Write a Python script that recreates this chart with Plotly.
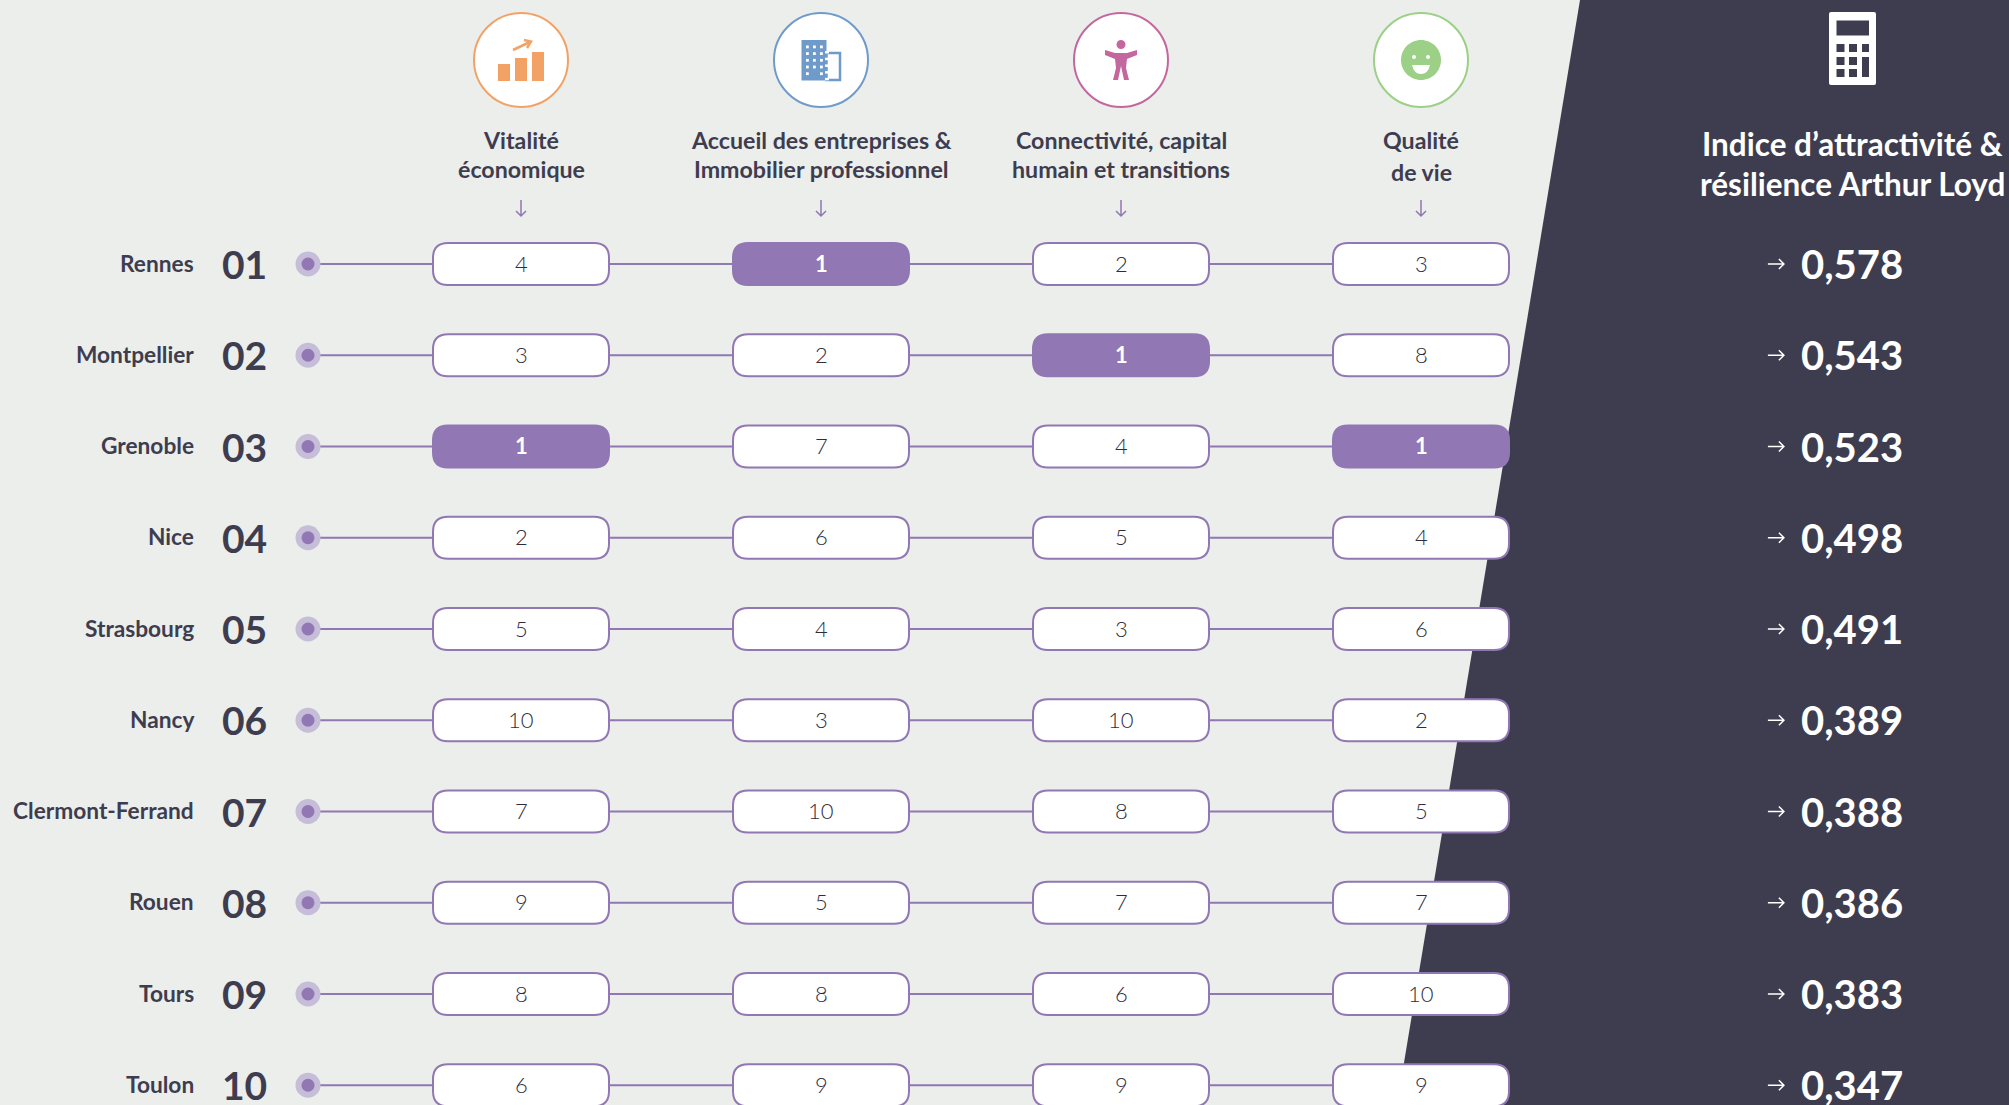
import plotly.graph_objects as go

cities = ["Rennes", "Montpellier", "Grenoble", "Nice", "Strasbourg", "Nancy",
          "Clermont-Ferrand", "Rouen", "Tours", "Toulon"]
ranks = ["01", "02", "03", "04", "05", "06", "07", "08", "09", "10"]
vitalite = [4, 3, 1, 2, 5, 10, 7, 9, 8, 6]
accueil = [1, 2, 7, 6, 4, 3, 10, 5, 8, 9]
connectivite = [2, 1, 4, 5, 3, 10, 8, 7, 6, 9]
qualite = [3, 8, 1, 4, 6, 2, 5, 7, 10, 9]
indice = ["0,578", "0,543", "0,523", "0,498", "0,491", "0,389", "0,388", "0,386", "0,383", "0,347"]
headers = [["Vitalité", "économique"], ["Accueil des entreprises &", "Immobilier professionnel"],
           ["Connectivité, capital", "humain et transitions"], ["Qualité", "de vie"]]
score_title = ["Indice d’attractivité &", "résilience Arthur Loyd"]

W, H = 2009, 1105
BG, DARK, PURPLE, HALO = "#ECEEEB", "#3E3D50", "#9177B3", "#C6BDD8"
ORANGE, BLUE, PINK, GREEN = "#F3A266", "#6F9BCB", "#C4679F", "#9BD086"
FONT = "Lato"
COL_PX = 300.0
ROW_PX = 91.25
X0_PX, Y0_PX = 521.0, 264.0
columns = [vitalite, accueil, connectivite, qualite]
DOT_X = -0.71
SCORE_X = 4.26
ARROW_X = 4.183
header_line_y = [[140, 169], [140, 169], [140, 169], [140, 172]]
title_line_y = [144, 184]

fig = go.Figure()
ys = list(range(1, 11))

# connecting lines and dots
for i, y in enumerate(ys):
    fig.add_trace(go.Scatter(x=[DOT_X, 0, 1, 2, 3], y=[y] * 5, mode="lines",
                             line=dict(color=PURPLE, width=2), hoverinfo="skip", showlegend=False))
fig.add_trace(go.Scatter(x=[DOT_X] * 10, y=ys, mode="markers",
                         marker=dict(size=25, color=HALO, line=dict(width=0)), showlegend=False, hoverinfo="skip"))
fig.add_trace(go.Scatter(x=[DOT_X] * 10, y=ys, mode="markers",
                         marker=dict(size=13, color=PURPLE, line=dict(width=0)), showlegend=False, hoverinfo="skip"))

shapes = []
annotations = []


def yf(px):
    return 1 - px / H


def psh(path, cx, cy_px, fill=None, line=None, lw=0, xref="x"):
    """Path in pixels (y down) relative to an anchor."""
    shapes.append(dict(type="path", xref=xref, yref="paper", xsizemode="pixel", ysizemode="pixel",
                       xanchor=cx, yanchor=yf(cy_px), path=path,
                       fillcolor=fill if fill else "rgba(0,0,0,0)",
                       line=dict(color=line if line else "rgba(0,0,0,0)", width=lw), layer="above"))


def rr(x0, y0, x1, y1, r):
    # y is flipped for the plotly pixel convention (positive = up)
    a, b = -y0, -y1
    return (f"M{x0 + r},{a} L{x1 - r},{a} Q{x1},{a} {x1},{a - r} L{x1},{b + r} Q{x1},{b} {x1 - r},{b} "
            f"L{x0 + r},{b} Q{x0},{b} {x0},{b + r} L{x0},{a - r} Q{x0},{a} {x0 + r},{a} Z")


def box(x0, y0, x1, y1):
    return f"M{x0},{-y0} L{x1},{-y0} L{x1},{-y1} L{x0},{-y1} Z"


def circ(cx, cy, r):
    k = 0.5523 * r
    y = -cy
    return (f"M{cx - r},{y} C{cx - r},{y + k} {cx - k},{y + r} {cx},{y + r} "
            f"C{cx + k},{y + r} {cx + r},{y + k} {cx + r},{y} "
            f"C{cx + r},{y - k} {cx + k},{y - r} {cx},{y - r} "
            f"C{cx - k},{y - r} {cx - r},{y - k} {cx - r},{y} Z")


def poly(pts):
    return "M" + " L".join(f"{x},{-y}" for x, y in pts) + " Z"


def line_path(pts):
    return "M" + " L".join(f"{x},{-y}" for x, y in pts)


# dark slanted panel, drawn beneath the traces
shapes.append(dict(type="path", xref="paper", yref="paper", layer="below", fillcolor=DARK,
                   line=dict(width=0), path=f"M{1580 / W},1 L1,1 L1,0 L{1397 / W},0 Z"))

# pills and values
for c, col in enumerate(columns):
    for y, v in zip(ys, col):
        hi = v == 1
        shapes.append(dict(type="path", xref="x", yref="y", xsizemode="pixel", ysizemode="pixel",
                           xanchor=c, yanchor=y, path=rr(-88, -21, 88, 21, 15),
                           fillcolor=PURPLE if hi else "white", line=dict(color=PURPLE, width=2), layer="above"))
        annotations.append(dict(x=c, y=y, xref="x", yref="y", text=f"<b>{v}</b>" if hi else str(v), showarrow=False,
                                yshift=1,
                                font=dict(family=FONT, size=22, weight=700 if hi else 300,
                                          color="white" if hi else "#2E2D40")))

# rows: city, rank, score
for y, name, r, s in zip(ys, cities, ranks, indice):
    annotations.append(dict(x=196 / W, y=y, xref="paper", yref="y", xanchor="right", yanchor="middle",
                            text=f"<b>{name}</b>", yshift=1,
                            showarrow=False, font=dict(family=FONT, size=22.7, color=DARK)))
    annotations.append(dict(x=220 / W, y=y, xref="paper", yref="y", xanchor="left", yanchor="middle",
                            text=f"<b>{r}</b>",
                            showarrow=False, font=dict(family=FONT, size=39, color=DARK)))
    annotations.append(dict(x=SCORE_X, y=y, xref="x", yref="y", xanchor="left", yanchor="middle",
                            text=f"<b>{s}</b>",
                            showarrow=False, font=dict(family=FONT, size=40, color="white")))
    shapes.append(dict(type="path", xref="x", yref="y", xsizemode="pixel", ysizemode="pixel",
                       xanchor=ARROW_X, yanchor=y, path="M-8,0 L8,0 M3,5 L8,0 L3,-5",
                       line=dict(color="white", width=1.5), layer="above"))

# headers
for c, (lines, line_y) in enumerate(zip(headers, header_line_y)):
    for text, py in zip(lines, line_y):
        annotations.append(dict(x=c, y=yf(py), xref="x", yref="paper", xanchor="center", yanchor="middle",
                                text=f"<b>{text}</b>", showarrow=False,
                                font=dict(family=FONT, size=23.2, color=DARK)))
    psh("M0,8 L0,-8 M-5,-3 L0,-8 L5,-3", c, 208, line=PURPLE, lw=1.5)

for text, py in zip(score_title, title_line_y):
    annotations.append(dict(x=1852 / W, y=yf(py), xref="paper", yref="paper", xanchor="center", yanchor="middle",
                            text=f"<b>{text}</b>", showarrow=False,
                            font=dict(family=FONT, size=31.5, color="white")))

# header circles
for c, col_c in enumerate([ORANGE, BLUE, PINK, GREEN]):
    psh(circ(0, 0, 47), c, 60, fill="white", line=col_c, lw=2)

# icon 0: bars and arrow (relative to the circle centre)
for b in [box(-23, 4, -11, 21), box(-6, -2, 6, 21), box(11, -8, 23, 21)]:
    psh(b, 0, 60, fill=ORANGE)
psh(line_path([(-8, -10), (9, -18)]), 0, 60, line=ORANGE, lw=2.5)
psh(line_path([(3, -20), (10, -18.5), (6, -12)]), 0, 60, line=ORANGE, lw=2.5)

# icon 1: building
psh(box(-19.5, -20, 5.5, 20.5), 1, 60, fill=BLUE)
psh(box(5.5, -7, 19, 20), 1, 60, line=BLUE, lw=2.5)
for rw in range(5):
    for cl in range(3):
        x = -15 + cl * 7
        y = -14.5 + rw * 6.7
        if rw == 4 and cl == 1:
            continue
        psh(box(x, y, x + 2.8, y + 2.8), 1, 60, fill="white")
    psh(box(4, -9 + rw * 6.7, 8, -6.5 + rw * 6.7), 1, 60, fill="white")

# icon 2: person
psh(circ(0, -15.5, 4.5), 2, 60, fill=PINK)
psh(poly([(-16, -10), (-6, -7), (6, -7), (16, -10), (16, -5), (6, -1), (5, 8), (8, 20), (3, 20), (0, 6),
          (-3, 20), (-8, 20), (-5, 8), (-6, -1), (-16, -5)]), 2, 60, fill=PINK)

# icon 3: smiley
psh(circ(0, 0, 20), 3, 60, fill=GREEN)
psh(circ(-7, -3, 2), 3, 60, fill="white")
psh(circ(7, -3, 2), 3, 60, fill="white")
psh("M-9,-5 L9,-5 Q7,-14 0,-14 Q-7,-14 -9,-5 Z", 3, 60, fill="white")

# calculator
CX = 1852.5 / W
psh(rr(-23.5, -36.5, 23.5, 36.5, 2), CX, 48.5, fill="white", xref="paper")
psh(box(-16, -28, 16.5, -13), CX, 48.5, fill=DARK, xref="paper")
for rw, (a, b) in enumerate([(-4.5, 3.5), (8.5, 16.5), (20.5, 28.5)]):
    for x0, x1 in [(-16, -8), (-3.5, 4.5), (9.5, 16.5)]:
        psh(box(x0, a, x1, b), CX, 48.5, fill=DARK, xref="paper")
psh(box(9.5, 16, 16.5, 21), CX, 48.5, fill=DARK, xref="paper")

fig.update_layout(
    width=W, height=H, margin=dict(l=0, r=0, t=0, b=0), autosize=False,
    paper_bgcolor=BG, plot_bgcolor="rgba(0,0,0,0)", showlegend=False,
    xaxis=dict(range=[-X0_PX / COL_PX, (W - X0_PX) / COL_PX], visible=False, fixedrange=True),
    yaxis=dict(range=[1 + (H - Y0_PX) / ROW_PX, 1 - Y0_PX / ROW_PX], visible=False, fixedrange=True),
    shapes=shapes, annotations=annotations,
)

fig.write_html("out.html", config=dict(displayModeBar=False),
               post_script="document.body.style.margin='0';document.body.style.overflow='hidden';")
